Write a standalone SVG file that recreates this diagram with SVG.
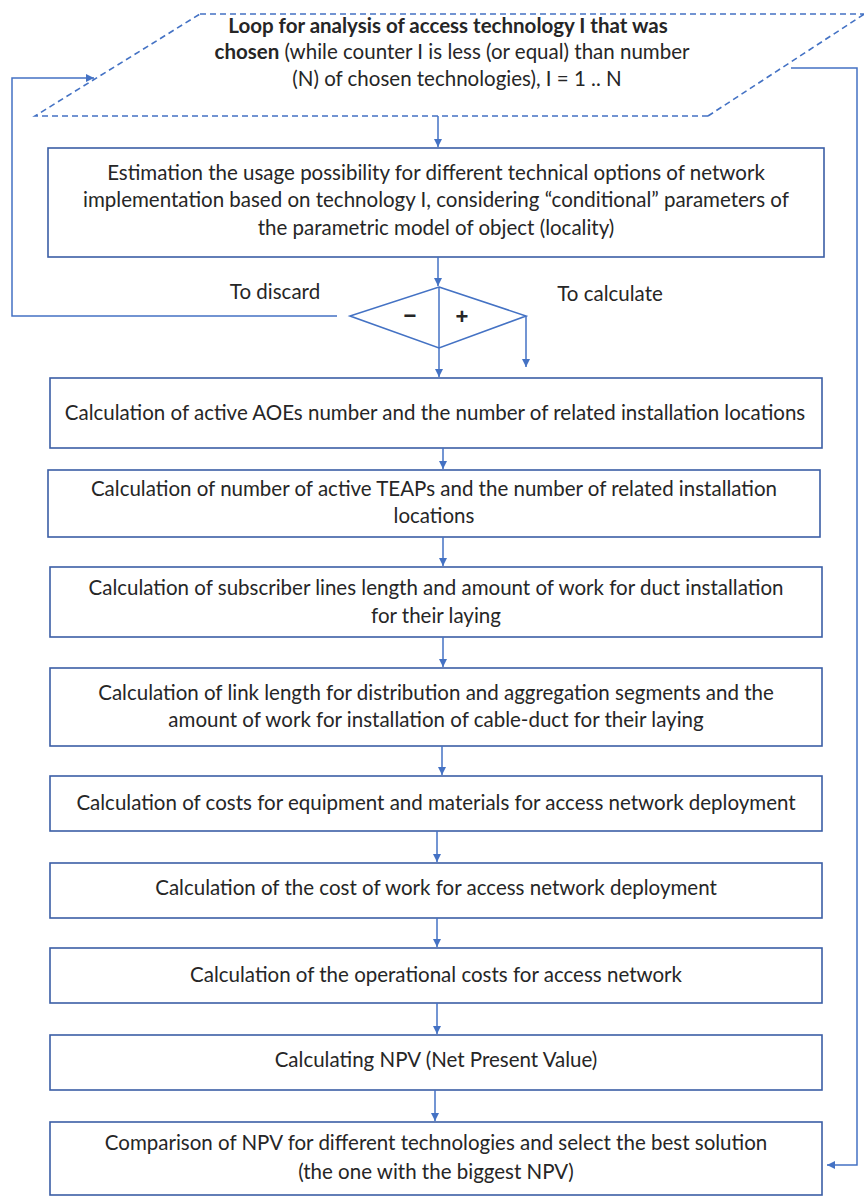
<svg xmlns="http://www.w3.org/2000/svg" width="864" height="1197" viewBox="0 0 864 1197">
<style>
.box{fill:#fff;stroke:#3b5ea6;stroke-width:1.6}
.t{font-family:Lato,"Liberation Sans",sans-serif;font-size:20.5px;fill:#262626;text-anchor:middle}
.c{fill:none;stroke:#4472c4;stroke-width:1.5}
.b{font-weight:bold}
.s{font-family:"Liberation Sans",Lato,sans-serif;font-size:22px;font-weight:bold;fill:#262626;text-anchor:middle}
</style>
<defs>
<marker id="ah" viewBox="0 0 10 10" refX="10" refY="5" markerWidth="8" markerHeight="8" markerUnits="userSpaceOnUse" orient="auto">
<path d="M0,0 L10,5 L0,10 z" fill="#4472c4"/>
</marker>
</defs>
<rect width="864" height="1197" fill="#fff"/>
<g id="loop">
<path d="M200,14 L864,14 M708,116 L35,116 L200,14 M708,116 L866,13" fill="none" stroke="#4472c4" stroke-width="1.6" stroke-dasharray="6,4"/>
<text class="t" x="448" y="33"><tspan class="b">Loop for analysis of access technology I that was</tspan></text>
<text class="t" x="452" y="59"><tspan class="b">chosen</tspan> (while counter I is less (or equal) than number</text>
<text class="t" x="457" y="86">(N) of chosen technologies), I = 1 .. N</text>
</g>
<g id="n1">
<rect class="box" x="48" y="148" width="776" height="109"/>
<text class="t" x="436" y="180">Estimation the usage possibility for different technical options of network</text>
<text class="t" x="436" y="207">implementation based on technology I, considering “conditional” parameters of</text>
<text class="t" x="436" y="235">the parametric model of object (locality)</text>
</g>
<g id="decision">
<polygon points="439,287 526,316 439,348 350,316" fill="#fff" stroke="#4472c4" stroke-width="1.6"/>
<text class="s" x="410" y="323">−</text>
<text class="s" x="462" y="324">+</text>
<text class="t" x="275" y="299">To discard</text>
<text class="t" x="610" y="301">To calculate</text>
</g>
<g id="n2">
<rect class="box" x="50" y="378" width="772" height="70"/>
<text class="t" x="435" y="420">Calculation of active AOEs number and the number of related installation locations</text>
</g>
<g id="n3">
<rect class="box" x="48" y="470" width="772" height="67"/>
<text class="t" x="434" y="496">Calculation of number of active TEAPs and the number of related installation</text>
<text class="t" x="434" y="523">locations</text>
</g>
<g id="n4">
<rect class="box" x="50" y="567" width="772" height="70"/>
<text class="t" x="436" y="595">Calculation of subscriber lines length and amount of work for duct installation</text>
<text class="t" x="436" y="623">for their laying</text>
</g>
<g id="n5">
<rect class="box" x="50" y="668" width="772" height="78"/>
<text class="t" x="436" y="700">Calculation of link length for distribution and aggregation segments and the</text>
<text class="t" x="436" y="727">amount of work for installation of cable-duct for their laying</text>
</g>
<g id="n6">
<rect class="box" x="50" y="776" width="772" height="55"/>
<text class="t" x="436" y="810">Calculation of costs for equipment and materials for access network deployment</text>
</g>
<g id="n7">
<rect class="box" x="50" y="863" width="772" height="55"/>
<text class="t" x="436" y="895">Calculation of the cost of work for access network deployment</text>
</g>
<g id="n8">
<rect class="box" x="50" y="948" width="772" height="55"/>
<text class="t" x="436" y="982">Calculation of the operational costs for access network</text>
</g>
<g id="n9">
<rect class="box" x="50" y="1035" width="772" height="55"/>
<text class="t" x="436" y="1067">Calculating NPV (Net Present Value)</text>
</g>
<g id="n10">
<rect class="box" x="50" y="1122" width="772" height="73"/>
<text class="t" x="436" y="1150">Comparison of NPV for different technologies and select the best solution</text>
<text class="t" x="436" y="1179">(the one with the biggest NPV)</text>
</g>
<g id="connectors">
<path class="c" d="M438,116 L438,147" marker-end="url(#ah)"/>
<path class="c" d="M438,257 L438,286" marker-end="url(#ah)"/>
<path class="c" d="M439,287 L439,377" marker-end="url(#ah)"/>
<path class="c" d="M526,316 L526,367" marker-end="url(#ah)"/>
<path class="c" d="M337,316 L12,316 L12,78 L94,78" marker-end="url(#ah)"/>
<path class="c" d="M791,68 L857,68 L857,1165 L827,1165" marker-end="url(#ah)" stroke-width="2"/>
<path class="c" d="M443,448 L443,469" marker-end="url(#ah)"/>
<path class="c" d="M443,537 L443,566" marker-end="url(#ah)"/>
<path class="c" d="M443,637 L443,667" marker-end="url(#ah)"/>
<path class="c" d="M442,746 L442,775" marker-end="url(#ah)"/>
<path class="c" d="M437,831 L437,862" marker-end="url(#ah)"/>
<path class="c" d="M437,918 L437,947" marker-end="url(#ah)"/>
<path class="c" d="M437,1003 L437,1034" marker-end="url(#ah)"/>
<path class="c" d="M435,1090 L435,1121" marker-end="url(#ah)"/>
</g>
</svg>
